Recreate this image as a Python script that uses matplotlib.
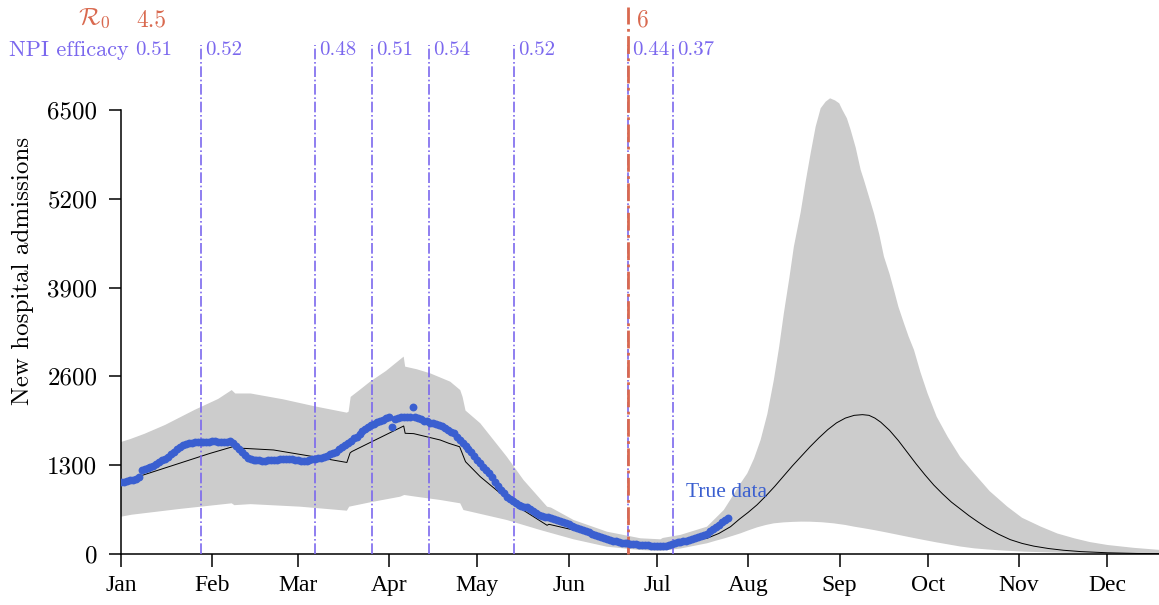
import numpy as np
import matplotlib
matplotlib.use("Agg")
import matplotlib.pyplot as plt

plt.rcParams['mathtext.fontset'] = 'cm'
plt.rcParams['axes.formatter.use_mathtext'] = True

# ------------------------------------------------------------------
# data (day of year 2020)
month_days = [0, 31, 60, 91, 121, 152, 182, 213, 244, 274, 305, 335]
month_labels = ['Jan', 'Feb', 'Mar', 'Apr', 'May', 'Jun',
                'Jul', 'Aug', 'Sep', 'Oct', 'Nov', 'Dec']

# observed daily admissions
admissions = [
    1050, 1060, 1070, 1080, 1090, 1100, 1120, 1230, 1250, 1260,
    1270, 1290, 1320, 1350, 1370, 1395, 1420, 1460, 1500, 1540,
    1570, 1590, 1610, 1625, 1630, 1635, 1640, 1645, 1640, 1640,
    1645, 1650, 1655, 1645, 1640, 1635, 1640, 1650, 1630, 1580,
    1530, 1490, 1450, 1410, 1390, 1380, 1370, 1370, 1365, 1365,
    1370, 1375, 1370, 1380, 1385, 1390, 1385, 1395, 1390, 1380,
    1370, 1360, 1355, 1360, 1370, 1385, 1395, 1400, 1410, 1420,
    1440, 1460, 1475, 1500, 1530, 1560, 1590, 1625, 1660, 1700,
    1720, 1760, 1800, 1830, 1860, 1890, 1910, 1930, 1940, 1960,
    1990, 2000, 1860, 1980, 1995, 2000, 2010, 2005, 2010, 2150,
    2000, 1990, 1970, 1950, 1940, 1925, 1915, 1900, 1890, 1870,
    1840, 1815, 1790, 1765, 1720, 1670, 1625, 1580, 1540, 1500,
    1440, 1380, 1330, 1280, 1230, 1190, 1120, 1050, 990, 940,
    890, 840, 800, 770, 740, 720, 705, 695, 685, 660,
    630, 600, 575, 560, 545, 535, 525, 510, 495, 480,
    465, 450, 435, 415, 400, 385, 365, 350, 335, 320,
    300, 285, 265, 250, 235, 220, 205, 195, 185, 175,
    165, 160, 155, 150, 145, 140, 135, 132, 128, 125,
    122, 120, 120, 120, 120, 122, 128, 140, 155, 170,
    180, 188, 195, 205, 215, 230, 245, 260, 280, 295,
    330, 365, 400, 430, 465, 500, 530,
]

# model median
model_days = [0, 7.6, 20, 30, 38, 39, 41.6, 51.8, 65.4, 76.7, 77.8, 78.4,
              85.2, 96, 96.5, 99.4, 108.4, 111.3, 115, 117, 122, 128.8,
              135.6, 144.7, 145.3, 153.7, 165, 176.4, 183.2, 190, 199,
              203, 207, 210, 213, 216, 219, 222, 225, 228, 231, 234, 237,
              240, 243, 246, 249, 251.8, 254, 256, 258, 261, 264, 267,
              270, 273, 276, 279, 282, 285, 288, 291, 294, 298, 302, 306,
              310, 315, 320, 326, 335, 345, 353]
model_vals = [1050, 1157, 1330, 1470, 1571, 1550, 1547, 1523, 1425, 1340,
              1480, 1500, 1645, 1874, 1767, 1762, 1669, 1621, 1570, 1351,
              1132, 889, 669, 420, 435, 351, 230, 157, 142, 165, 230,
              300, 400, 510, 610, 720, 850, 990, 1140, 1290, 1430, 1570,
              1700, 1820, 1920, 1990, 2030, 2040, 2030, 1990, 1930, 1810,
              1660, 1490, 1320, 1160, 1010, 880, 760, 660, 560, 470, 385,
              290, 210, 155, 115, 80, 55, 35, 18, 8, 5]

# credible band
upper_days = [0, 3, 8, 15, 25, 33, 37.6, 38.8, 44, 55, 66, 76.7, 77.3, 78,
              81, 84.6, 90, 96, 96.5, 100.5, 105, 111.8, 115.2, 116, 117,
              122, 131, 136.7, 144.7, 146, 153.7, 165, 176.4, 183.2, 184,
              190, 199, 204.7, 207, 210.4, 212.7, 215, 217.2, 219.5, 221.7,
              223.5, 225.1, 227, 228.5, 230.8, 232.5, 234.2, 235.9, 237.6,
              239.3, 240.8, 242.5, 243.9, 245, 246.5, 247.8, 249.5, 251.2,
              252.3, 255.7, 257.5, 259.1, 261, 262.5, 264, 265.9, 267.5,
              269.3, 271.5, 273.9, 277, 280.7, 285, 289.7, 295, 301, 306,
              312.4, 318, 323.7, 329, 335, 344, 353]
upper_vals = [1640, 1680, 1760, 1890, 2110, 2270, 2400, 2350, 2350, 2265,
              2160, 2069, 2084, 2300, 2400, 2523, 2680, 2890, 2743, 2704,
              2645, 2523, 2400, 2300, 2100, 1914, 1425, 1083, 693, 680,
              498, 327, 230, 215, 235, 280, 400, 644, 800, 1035, 1181,
              1400, 1669, 2050, 2547, 3030, 3524, 4050, 4499, 5000, 5450,
              5867, 6256, 6525, 6622, 6671, 6640, 6598, 6500, 6380, 6208,
              5950, 5622, 5476, 4988, 4680, 4353, 4100, 3865, 3620, 3377,
              3180, 2987, 2660, 2352, 2010, 1718, 1420, 1181, 920, 693,
              530, 400, 300, 230, 175, 132, 90, 59]

lower_days = [0, 3.6, 20, 37.6, 38.5, 44, 60.8, 76.7, 77.5, 85, 94.8, 96.2,
              100, 108.4, 115.2, 116.3, 131, 142.4, 153.7, 165, 176, 183,
              190, 199, 202, 205, 208, 210.4, 213, 216, 219, 221.7, 225,
              228, 231, 234, 238, 242, 246, 249, 252.5, 255.7, 260, 264,
              268, 272.7, 277, 281, 285, 289.7, 294, 298, 306.7, 315,
              323.7, 335, 353]
lower_vals = [546, 575, 660, 742, 715, 730, 693, 634, 693, 760, 839, 864,
              840, 791, 742, 644, 498, 351, 215, 107, 59, 44, 80, 157, 195,
              230, 270, 303, 345, 390, 425, 449, 463, 470, 474, 473, 465,
              449, 425, 400, 375, 351, 315, 280, 245, 205, 170, 140, 110,
              83, 67, 55, 34, 24, 15, 9, 5]

# interventions
npi_days = [3.5, 27.2, 65.9, 85.3, 104.7, 133.6, 172.3, 187.6]
npi_vals = ['0.51', '0.52', '0.48', '0.51', '0.54', '0.52', '0.44', '0.37']
r0_days = [3.5, 172.3]
r0_vals = ['4.5', '6']

# ------------------------------------------------------------------
npi_color = '#7b68ee'
r0_color = '#d9694f'
dot_color = '#3a5fd0'
cm_font = 'cmr10'

fig = plt.figure(figsize=(11.59, 6.05), dpi=100)
ax = fig.add_axes([121 / 1159, 51 / 605, 1038 / 1159, 459 / 605])

ax.fill(np.r_[upper_days, lower_days[::-1]],
        np.r_[upper_vals, lower_vals[::-1]],
        color='#cccccc', lw=0, zorder=1)
ax.plot(model_days, model_vals, color='black', lw=0.7, zorder=2)
ax.scatter(np.arange(len(admissions)), admissions, s=32, color=dot_color,
           lw=0, zorder=4)
ax.text(192, 900, 'True data', color=dot_color, fontsize=15.5,
        family='Liberation Serif', va='center', ha='left')

for d in npi_days[1:]:
    ax.axvline(d, ymin=0, ymax=509 / 459, color=npi_color, lw=1.2,
               ls='-.', clip_on=False, zorder=3)
ax.axvline(r0_days[1], ymin=0, ymax=547 / 459, color=r0_color, lw=2,
           ls='-.', clip_on=False, zorder=3)

trans = ax.get_xaxis_transform()
for d, v in zip(npi_days, npi_vals):
    ax.annotate(v, (d, 504 / 459), xycoords=trans, xytext=(3, 0),
                textcoords='offset points', color=npi_color, fontsize=15,
                family=cm_font, va='center', ha='left')
for d, v, off in zip(r0_days, r0_vals, [4, 6.5]):
    ax.annotate(v, (d, 534 / 459), xycoords=trans, xytext=(off, 0),
                textcoords='offset points', color=r0_color, fontsize=17,
                family=cm_font, va='center', ha='left')
ax.text(0.007, 504 / 459, 'NPI efficacy', transform=ax.transAxes,
        color=npi_color, fontsize=16, family=cm_font, va='center', ha='right')
ax.text(-0.01, 536 / 459, r'$\mathcal{R}_0$', transform=ax.transAxes,
        color=r0_color, fontsize=18, va='center', ha='right')

ax.set_xlim(0, 352.5)
ax.set_ylim(0, 459 / 0.068308)
ax.set_xticks(month_days)
ax.set_xticklabels(month_labels, family='Liberation Serif', fontsize=17)
ax.set_yticks([0, 1300, 2600, 3900, 5200, 6500])
ax.set_yticklabels(['0', '1300', '2600', '3900', '5200', '6500'],
                   family=cm_font, fontsize=18)
ax.set_ylabel('New hospital admissions', family=cm_font, fontsize=18)
ax.yaxis.set_label_coords(-0.084, 0.617)

ax.spines['top'].set_visible(False)
ax.spines['right'].set_visible(False)
ax.spines['left'].set_bounds(0, 6500)
for s in ['left', 'bottom']:
    ax.spines[s].set_linewidth(1.1)
ax.tick_params(axis='both', length=9, width=1.1, color='black')
ax.tick_params(axis='y', pad=8)
ax.tick_params(axis='x', pad=6)

plt.savefig('out.png', dpi=100)
